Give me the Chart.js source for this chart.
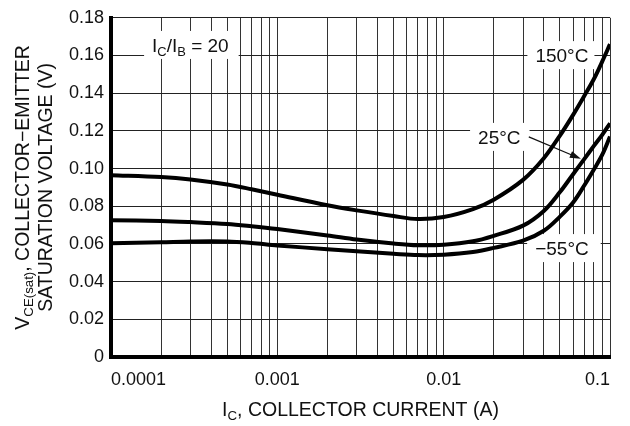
<!DOCTYPE html>
<html>
<head>
<meta charset="utf-8">
<script src="https://cdn.jsdelivr.net/npm/chart.js@4/dist/chart.umd.min.js"></script>
<style>
  html, body { margin: 0; padding: 0; background: #fff; }
  #wrap { width: 630px; height: 426px; }
</style>
</head>
<body>
<div id="wrap"><canvas id="chart"></canvas></div>
<script>
// collector current (A)
const current = [0.0001, 0.0002, 0.0003, 0.0005, 0.0007, 0.001, 0.002, 0.003, 0.005, 0.007,
  0.01, 0.015, 0.02, 0.03, 0.04, 0.05, 0.06, 0.07, 0.08, 0.09, 0.1];

// VCE(sat) in volts
const vce150 = [0.0965, 0.0955, 0.0942, 0.0915, 0.089, 0.0861, 0.0805, 0.0778, 0.0748, 0.0732,
  0.0743, 0.0785, 0.0835, 0.094, 0.1055, 0.1175, 0.1285, 0.1385, 0.1475, 0.157, 0.166];
const vce25 = [0.0726, 0.0722, 0.0716, 0.0706, 0.0694, 0.0679, 0.0645, 0.0623, 0.0602, 0.0593,
  0.0596, 0.0614, 0.0643, 0.0697, 0.0775, 0.0875, 0.097, 0.105, 0.112, 0.118, 0.124];
const vceMinus55 = [0.0604, 0.0609, 0.0613, 0.0613, 0.0605, 0.0592, 0.0572, 0.0561, 0.0548, 0.0541,
  0.0543, 0.0557, 0.0579, 0.0617, 0.067, 0.0745, 0.082, 0.091, 0.0995, 0.1075, 0.117];

const yTicks = [0, 0.02, 0.04, 0.06, 0.08, 0.1, 0.12, 0.14, 0.16, 0.18];
const yTickLabels = ['0', '0.02', '0.04', '0.06', '0.08', '0.10', '0.12', '0.14', '0.16', '0.18'];
const xDecades = [0.0001, 0.001, 0.01, 0.1];
const xTickLabels = ['0.0001', '0.001', '0.01', '0.1'];
const minorSteps = [1, 2, 3, 4, 5, 6, 7, 8, 9];

const FONT = "'Liberation Sans', Arial, sans-serif";
const INK = '#111';

// grid positions for the log axis: 1..9 in every decade
const xGrid = [];
for (let i = 0; i < xDecades.length - 1; i++) {
  minorSteps.forEach(m => xGrid.push(Number((m * xDecades[i]).toPrecision(6))));
}
xGrid.push(xDecades[xDecades.length - 1]);

function pts(ys) {
  return current.map((x, i) => ({ x: x, y: ys[i] }));
}

function curve(ys) {
  return {
    data: pts(ys),
    borderColor: '#000',
    borderWidth: 4,
    pointRadius: 0,
    fill: false,
    tension: 0.35
  };
}

// text with subscripts: parts = [[text, isSub], ...]
function richWidth(ctx, parts, size) {
  let w = 0;
  parts.forEach(p => {
    ctx.font = (p[1] ? size * 0.68 : size) + 'px ' + FONT;
    w += ctx.measureText(p[0]).width;
  });
  return w;
}

function drawRich(ctx, parts, size, x, y) {
  ctx.textAlign = 'left';
  ctx.textBaseline = 'alphabetic';
  parts.forEach(p => {
    ctx.font = (p[1] ? size * 0.68 : size) + 'px ' + FONT;
    ctx.fillText(p[0], x, p[1] ? y + size * 0.22 : y);
    x += ctx.measureText(p[0]).width;
  });
}

const notes = [
  { parts: [['I', false], ['C', true], ['/I', false], ['B', true], [' = 20', false]], x: 0.0003, y: 0.1656, padL: 8, padR: 10 },
  { parts: [['150°C', false]], x: 0.0514, y: 0.1602, padL: 8, padR: 6 },
  { parts: [['25°C', false]], x: 0.0216, y: 0.1168, padL: 8, padR: 9 },
  { parts: [['−55°C', false]], x: 0.0514, y: 0.0578, padL: 8, padR: 12 }
];
const arrowFrom = { x: 0.0325, y: 0.1168 };
const arrowTo = { x: 0.0668, y: 0.1052 };

const notePlugin = {
  id: 'notes',
  beforeDatasetsDraw(chart) {
    const ctx = chart.ctx;
    const xs = chart.scales.x, ys = chart.scales.y;
    const size = 19;
    ctx.save();
    notes.forEach(n => {
      const w = richWidth(ctx, n.parts, size);
      const cx = xs.getPixelForValue(n.x);
      const cy = ys.getPixelForValue(n.y);
      ctx.fillStyle = '#fff';
      ctx.fillRect(cx - w / 2 - n.padL, cy - 14, w + n.padL + n.padR, 28);
      ctx.fillStyle = INK;
      drawRich(ctx, n.parts, size, cx - w / 2, cy + 7);
    });
    // arrow to the 25 degC curve
    const x0 = xs.getPixelForValue(arrowFrom.x), y0 = ys.getPixelForValue(arrowFrom.y);
    const x1 = xs.getPixelForValue(arrowTo.x), y1 = ys.getPixelForValue(arrowTo.y);
    const a = Math.atan2(y1 - y0, x1 - x0);
    ctx.strokeStyle = INK;
    ctx.lineWidth = 1.2;
    ctx.beginPath();
    ctx.moveTo(x0, y0);
    ctx.lineTo(x1 - 6 * Math.cos(a), y1 - 6 * Math.sin(a));
    ctx.stroke();
    ctx.fillStyle = INK;
    ctx.beginPath();
    ctx.moveTo(x1, y1);
    ctx.lineTo(x1 - 11 * Math.cos(a) + 3.5 * Math.sin(a), y1 - 11 * Math.sin(a) - 3.5 * Math.cos(a));
    ctx.lineTo(x1 - 11 * Math.cos(a) - 3.5 * Math.sin(a), y1 - 11 * Math.sin(a) + 3.5 * Math.cos(a));
    ctx.closePath();
    ctx.fill();
    ctx.restore();
  }
};

const titlePlugin = {
  id: 'titles',
  afterDraw(chart) {
    const ctx = chart.ctx;
    const area = chart.chartArea;
    const size = 19.5;
    ctx.save();
    ctx.fillStyle = INK;
    // x axis title
    const xt = [['I', false], ['C', true], [', COLLECTOR CURRENT (A)', false]];
    const xw = richWidth(ctx, xt, size);
    drawRich(ctx, xt, size, (area.left + area.right) / 2 - xw / 2, 416);
    // y axis title, two rotated lines
    const cy = (area.top + area.bottom) / 2;
    const l1 = [['V', false], ['CE(sat)', true], [', COLLECTOR−EMITTER', false]];
    const l2 = [['SATURATION VOLTAGE (V)', false]];
    [[l1, 29], [l2, 52]].forEach(item => {
      const w = richWidth(ctx, item[0], size);
      ctx.save();
      ctx.translate(item[1], cy);
      ctx.rotate(-Math.PI / 2);
      drawRich(ctx, item[0], size, -w / 2, 0);
      ctx.restore();
    });
    ctx.restore();
  }
};

const config = {
  type: 'line',
  data: {
    datasets: [curve(vce150), curve(vce25), curve(vceMinus55)]
  },
  options: {
    responsive: true,
    maintainAspectRatio: false,
    animation: false,
    layout: { padding: { top: 11, right: 20, left: 0, bottom: 0 } },
    plugins: {
      legend: { display: false },
      tooltip: { enabled: false }
    },
    scales: {
      x: {
        type: 'logarithmic',
        min: 0.0001,
        max: 0.1,
        afterBuildTicks(scale) {
          scale.ticks = xGrid.map(v => ({ value: v }));
        },
        afterFit(scale) { scale.height = 69; },
        ticks: {
          autoSkip: false,
          maxRotation: 0,
          align: 'inner',
          padding: 12,
          color: INK,
          font: { family: FONT, size: 18 },
          callback(value) {
            const i = xDecades.findIndex(d => Math.abs(value / d - 1) < 1e-6);
            return i >= 0 ? xTickLabels[i] : '';
          }
        },
        grid: { color: '#333', lineWidth: 1, drawTicks: false },
        border: { color: '#000', width: 4 }
      },
      y: {
        min: 0,
        max: 0.18,
        afterBuildTicks(scale) {
          scale.ticks = yTicks.map(v => ({ value: v }));
        },
        afterFit(scale) { scale.width = 111; },
        ticks: {
          padding: 7,
          color: INK,
          font: { family: FONT, size: 18 },
          callback(value) {
            const i = yTicks.findIndex(t => Math.abs(t - value) < 1e-9);
            return i >= 0 ? yTickLabels[i] : '';
          }
        },
        grid: { color: '#222', lineWidth: 1, drawTicks: false },
        border: { color: '#000', width: 4 }
      }
    }
  },
  plugins: [notePlugin, titlePlugin]
};

const chart = new Chart(document.getElementById('chart'), config);
</script>
</body>
</html>
